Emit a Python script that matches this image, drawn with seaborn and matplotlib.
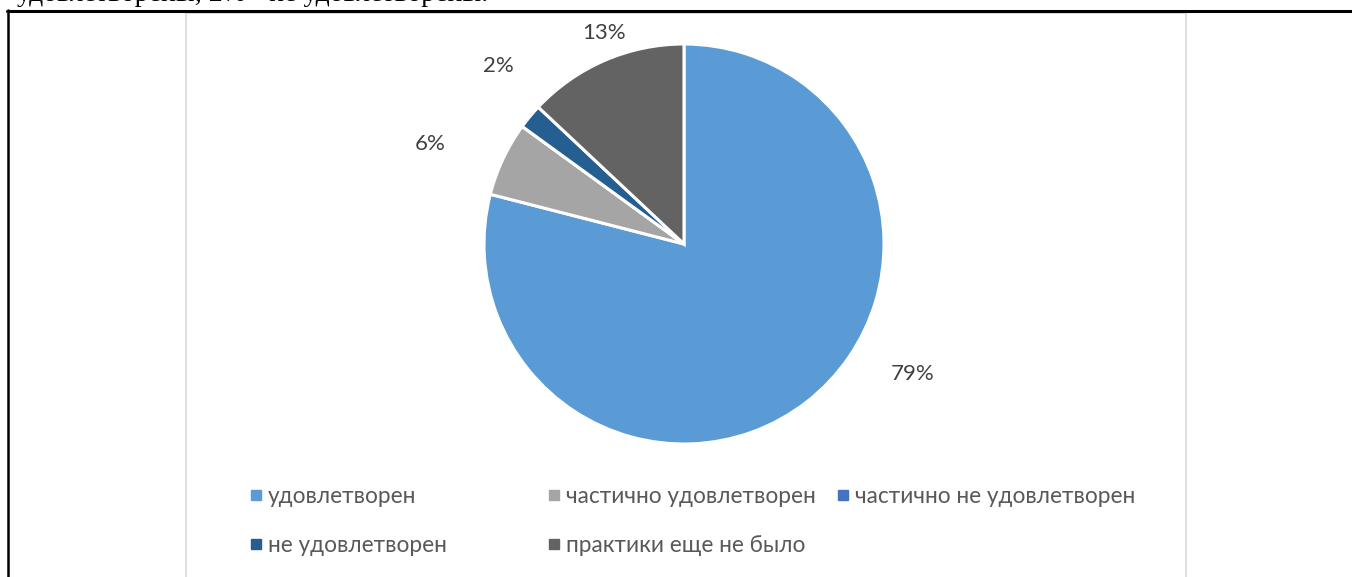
import matplotlib
matplotlib.use("Agg")
import matplotlib.pyplot as plt
from matplotlib.lines import Line2D
from matplotlib.patches import Rectangle
import seaborn as sns

# ---- data ----
categories = ["удовлетворен", "частично удовлетворен", "частично не удовлетворен",
              "не удовлетворен", "практики еще не было"]
values = [79, 6, 0, 2, 13]
colors = ["#5B9BD5", "#A5A5A5", "#4472C4", "#255E91", "#636363"]
label_texts = ["79%", "6%", "", "2%", "13%"]
caption = "удовлетворены, 2% - не удовлетворены."

# ---- style ----
sns.set_theme(style="white")
plt.rcParams["font.family"] = ["Lato", "DejaVu Sans"]

W, H = 1352, 577
fig = plt.figure(figsize=(W / 100, H / 100), dpi=100)
fig.patch.set_facecolor("white")

def fx(px):
    return px / W

def fy(py):
    return 1 - py / H

# page text (cut off at top, as in the source page)
fig.text(fx(17), fy(1), caption, family=["Liberation Serif", "DejaVu Serif"],
         fontsize=20, color="black", ha="left", va="baseline")

# document frame lines
fig.add_artist(Line2D([fx(7), fx(1352)], [fy(10.5), fy(10.5)], color="black", lw=2.2))
fig.add_artist(Line2D([fx(7.5), fx(7.5)], [fy(10), fy(577)], color="black", lw=1.8))

# chart area border
fig.add_artist(Rectangle((fx(186), fy(600)), fx(1000), (600 - 13) / H,
                         transform=fig.transFigure, fill=False,
                         edgecolor="#D9D9D9", lw=1.2))

# pie axes: center (684, 244), radius 200 px
cx, cy, r = 684, 244, 200
ax = fig.add_axes([fx(cx - 1.25 * r), fy(cy + 1.25 * r), 2.5 * r / W, 2.5 * r / H])
pal = sns.color_palette(colors)
wedges, _ = ax.pie(values, colors=pal, startangle=90, counterclock=False,
                   wedgeprops=dict(edgecolor="white", linewidth=2.2))
ax.set_xlim(-1.25, 1.25)
ax.set_ylim(-1.25, 1.25)
ax.set_aspect("equal")
ax.axis("off")

# data labels (Excel best-fit positions, in radius units)
label_pos = [(1.145, -0.65), (-1.27, 0.50), None, (-0.93, 0.89), (-0.40, 1.055)]
for txt, pos in zip(label_texts, label_pos):
    if pos is None or not txt:
        continue
    ax.text(pos[0], pos[1], txt, ha="center", va="center", fontsize=16,
            color="#404040")

# legend: three columns, row-major order
col_members = [[0, 3], [1, 4], [2]]
col_x = [251, 549, 838]
for members, x in zip(col_members, col_x):
    handles = [Line2D([0], [0], marker="s", linestyle="none", markersize=6.5,
                      markerfacecolor=colors[i], markeredgecolor=colors[i])
               for i in members]
    labels = [categories[i] for i in members]
    ytop = 486
    leg = fig.legend(handles, labels, loc="upper left",
                     bbox_to_anchor=(fx(x), fy(ytop)),
                     frameon=False, fontsize=16.3, handlelength=0.43,
                     handletextpad=0.32, labelspacing=1.22, borderpad=0,
                     borderaxespad=0)
    for t in leg.get_texts():
        t.set_color("#595959")

fig.savefig("out.png", dpi=100, facecolor="white")
